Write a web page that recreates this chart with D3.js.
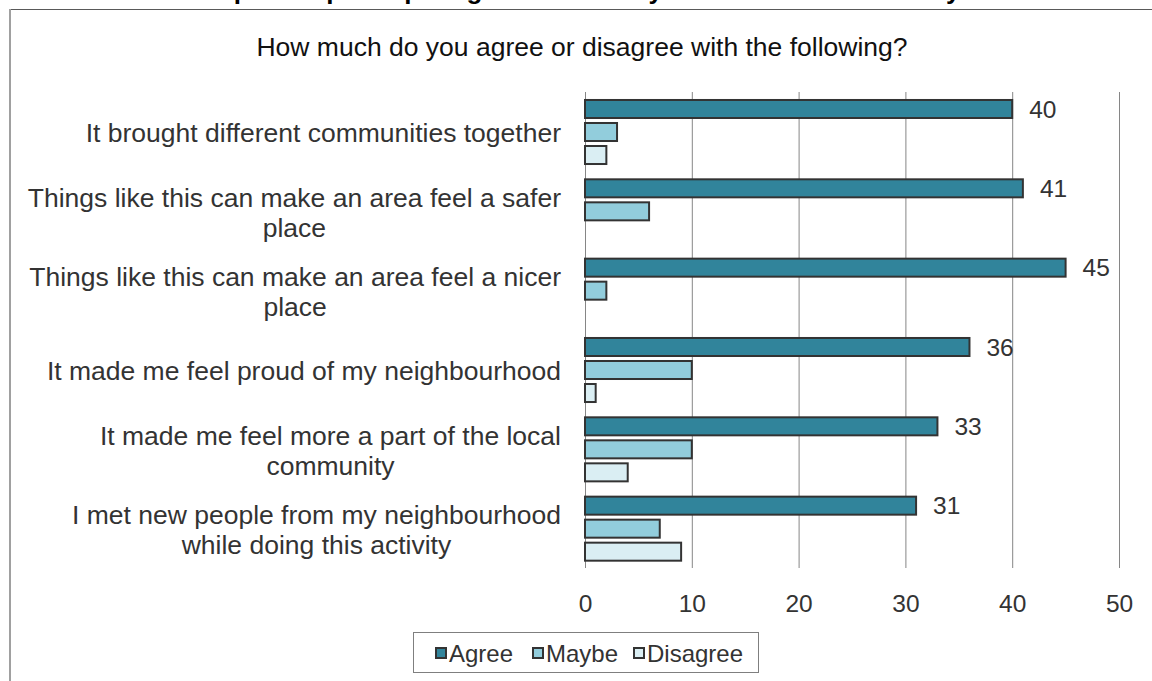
<!DOCTYPE html>
<html>
<head>
<meta charset="utf-8">
<script src="https://cdn.jsdelivr.net/npm/d3@7"></script>
<style>
  html, body { margin: 0; padding: 0; background: #fff; }
  svg { display: block; font-family: "Liberation Sans", Arial, sans-serif; }
</style>
</head>
<body>
<svg id="chart" width="1152" height="681"></svg>
<script>
const categories = [
  ["It brought different communities together"],
  ["Things like this can make an area feel a safer", "place"],
  ["Things like this can make an area feel a nicer", "place"],
  ["It made me feel proud of my neighbourhood"],
  ["It made me feel more a part of the local", "community"],
  ["I met new people from my neighbourhood", "while doing this activity"]
];
const seriesNames = ["Agree", "Maybe", "Disagree"];
const agree = [40, 41, 45, 36, 33, 31];
const maybe = [3, 6, 2, 10, 10, 7];
const disagree = [2, 0, 0, 1, 4, 9];
const xTicks = [0, 10, 20, 30, 40, 50];
const colors = ["#31849B", "#92CDDC", "#DAEEF3"];
const titleText = "Impact of participating in this activity on the local community";
const subtitleText = "How much do you agree or disagree with the following?";

(function () {
const svg = d3.select("#chart");
const W = 1152, H = 681;
const FONT = "'Liberation Sans', Arial, sans-serif";

// frame
svg.append("line").attr("x1", 10).attr("x2", W).attr("y1", 9.5).attr("y2", 9.5)
  .attr("stroke", "#595959").attr("stroke-width", 1);
svg.append("line").attr("x1", 10).attr("x2", 10).attr("y1", 9).attr("y2", H)
  .attr("stroke", "#a0a0a0").attr("stroke-width", 2);

// cut-off top title
svg.append("text").attr("x", 582).attr("y", -1).attr("text-anchor", "middle")
  .attr("font-size", 26).attr("font-weight", "bold").attr("fill", "#000")
  .text(titleText);

// subtitle
svg.append("text").attr("x", 582).attr("y", 56).attr("text-anchor", "middle")
  .attr("font-size", 26.5).attr("fill", "#111")
  .text(subtitleText);

const pLeft = 585, pRight = 1119, pTop = 92, pBottom = 568;
const x = d3.scaleLinear().domain([0, 50]).range([pLeft, pRight]);
const idx = d3.range(categories.length);
const y0 = d3.scaleBand().domain(idx).range([pTop, pBottom]).padding(0);
const y1 = d3.scaleBand().domain(seriesNames).range([5.5, 74.5]).paddingInner(0.217).paddingOuter(0.108);

// gridlines
const grid = svg.append("g").attr("transform", `translate(0,${pBottom})`)
  .call(d3.axisBottom(x).tickValues(xTicks).tickSize(-(pBottom - pTop)).tickFormat(""));
grid.select(".domain").remove();
grid.selectAll(".tick line").attr("stroke", "#868686").attr("stroke-width", 1);

// tick labels
const axis = svg.append("g").attr("transform", `translate(0,${pBottom})`)
  .call(d3.axisBottom(x).tickValues(xTicks).tickSize(0).tickPadding(27));
axis.select(".domain").remove();
axis.selectAll(".tick text").attr("font-size", 24.5).attr("fill", "#333")
  .attr("font-family", FONT);

// bars
const seriesData = [agree, maybe, disagree];
const groups = svg.append("g").selectAll("g").data(idx).join("g")
  .attr("transform", d => `translate(0,${y0(d)})`);
groups.selectAll("rect")
  .data(i => seriesNames.map((s, k) => ({ s, k, v: seriesData[k][i] })).filter(d => d.v > 0))
  .join("rect")
  .attr("x", x(0))
  .attr("y", d => y1(d.s))
  .attr("width", d => x(d.v) - x(0))
  .attr("height", y1.bandwidth())
  .attr("fill", d => colors[d.k])
  .attr("stroke", "#333")
  .attr("stroke-width", 2);

// value labels (Agree only)
groups.append("text")
  .attr("x", i => x(agree[i]) + 17)
  .attr("y", y1("Agree") + y1.bandwidth() / 2)
  .attr("dy", "0.36em")
  .attr("font-size", 24.5).attr("fill", "#333")
  .text(i => agree[i]);

// category labels
const labelRight = 561;
const lineH = 30;
idx.forEach(i => {
  const lines = categories[i];
  const cy = y0(i) + y0.bandwidth() / 2 + 1;
  const t = svg.append("text").attr("font-size", 26.5).attr("fill", "#333").attr("text-anchor", "middle");
  lines.forEach((ln, j) => {
    t.append("tspan").attr("x", 0)
      .attr("y", cy + (j - (lines.length - 1) / 2) * lineH)
      .attr("dy", "0.36em").text(ln);
  });
  let maxW = 0;
  t.selectAll("tspan").each(function () { maxW = Math.max(maxW, this.getComputedTextLength()); });
  t.selectAll("tspan").attr("x", labelRight - maxW / 2);
});

// legend
const legend = svg.append("g");
legend.append("rect").attr("x", 413.5).attr("y", 632.5).attr("width", 345).attr("height", 40)
  .attr("fill", "#fff").attr("stroke", "#7f7f7f").attr("stroke-width", 1);
const legX = [436, 533, 634];
seriesNames.forEach((s, k) => {
  legend.append("rect").attr("x", legX[k]).attr("y", 648).attr("width", 10).attr("height", 10)
    .attr("fill", colors[k]).attr("stroke", "#333").attr("stroke-width", 2);
  legend.append("text").attr("x", legX[k] + 13).attr("y", 653).attr("dy", "0.36em")
    .attr("font-size", 24).attr("fill", "#333").text(s);
});
})();
</script>
</body>
</html>
